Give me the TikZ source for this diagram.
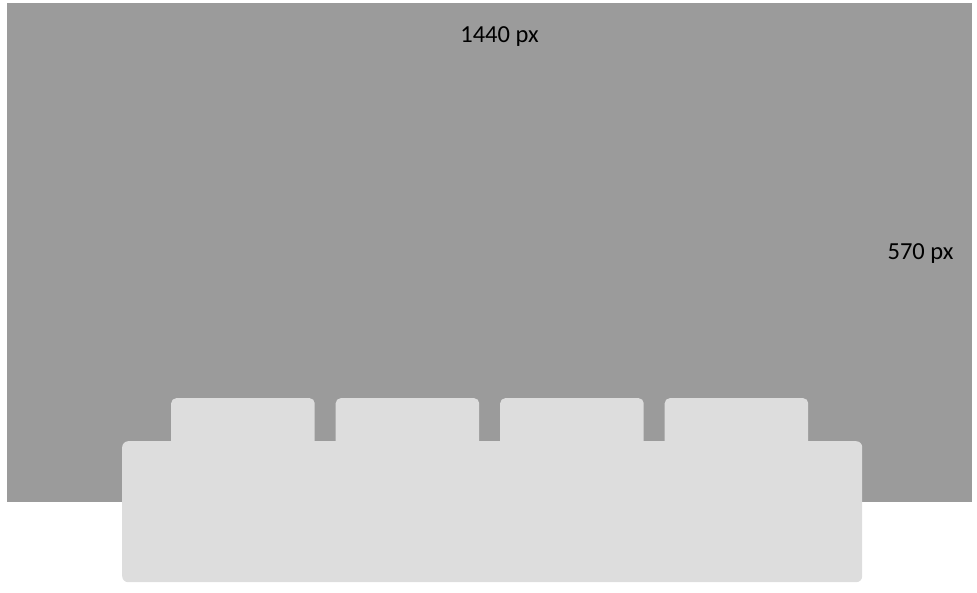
\documentclass[tikz,border=0pt]{standalone}
\usepackage{fontspec}
\setmainfont{Carlito}
\definecolor{screengray}{HTML}{9B9B9B}
\definecolor{docklight}{HTML}{DDDDDD}
\begin{document}
\begin{tikzpicture}[x=1pt,y=-1pt,
    box/.style={inner sep=0pt,anchor=north west},
    tab/.style={box,fill=docklight,rounded corners=5pt,minimum width=143.5pt,minimum height=60pt},
    size/.style={anchor=base,font=\fontsize{24.5}{29}\selectfont}]
    \useasboundingbox (0,0) rectangle (977,592);
    \node[box,fill=screengray,minimum width=965pt,minimum height=499pt] (screen) at (7,3) {};
    \foreach \i in {0,1,2,3}{
        \node[tab] (tab\i) at ({171+164.5*\i},398) {};
    }
    \node[box,fill=docklight,rounded corners=6pt,minimum width=740pt,minimum height=141pt] (dock) at (122,441) {};
    \node[size] (width) at (499.5,42.5) {1440 px};
    \node[size] (height) at (920.5,259) {570 px};
\end{tikzpicture}
\end{document}
